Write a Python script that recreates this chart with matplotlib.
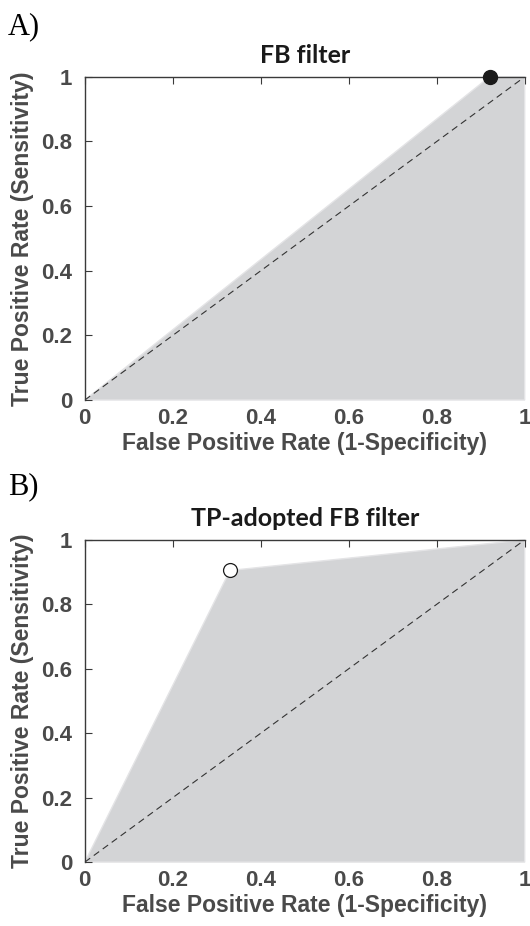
import numpy as np
import matplotlib
matplotlib.use("Agg")
import matplotlib.pyplot as plt

# ROC points (FPR, TPR) for each filter
fb_fpr = [0, 0.92, 1, 1]
fb_tpr = [0, 1.0, 1, 0]
fb_point = (0.92, 1.0)

tp_fpr = [0, 0.33, 1, 1]
tp_tpr = [0, 0.905, 1, 0]
tp_point = (0.33, 0.905)

ticks = [0, 0.2, 0.4, 0.6, 0.8, 1]
tick_labels = ["0", "0.2", "0.4", "0.6", "0.8", "1"]

fig = plt.figure(figsize=(5.3, 9.26), dpi=100)

ax_a = fig.add_axes([0.160, 0.568, 0.830, 0.349])
ax_b = fig.add_axes([0.160, 0.069, 0.830, 0.348])

label_col = "#4a4a4a"
fill_col = "#d3d4d6"

def style_axes(ax, title):
    ax.set_xlim(0, 1)
    ax.set_ylim(0, 1)
    for s in ["bottom", "right"]:
        ax.spines[s].set_visible(False)
    for s in ["top", "left"]:
        ax.spines[s].set_color("#3a3a3a")
        ax.spines[s].set_linewidth(1.0)
    ax.set_xticks(ticks)
    ax.set_xticklabels(tick_labels)
    ax.set_yticks(ticks)
    ax.set_yticklabels(tick_labels)
    ax.tick_params(axis="x", top=True, bottom=False, labelbottom=True,
                   direction="in", length=5, color="#3a3a3a", pad=6)
    ax.tick_params(axis="y", left=True, direction="in", length=5,
                   color="#3a3a3a", pad=9)
    for lab in ax.get_xticklabels() + ax.get_yticklabels():
        lab.set_fontfamily("Liberation Sans")
        lab.set_fontweight("bold")
        lab.set_fontsize(16)
        lab.set_color(label_col)
    ax.set_xlabel("False Positive Rate (1-Specificity)", fontsize=16.5,
                  fontweight="bold", color=label_col, family="Liberation Sans",
                  labelpad=2)
    ax.set_ylabel("True Positive Rate (Sensitivity)", fontsize=16.5,
                  fontweight="bold", color=label_col, family="Liberation Sans",
                  labelpad=5)
    ax.set_title(title, fontsize=18, fontweight="bold", family="Lato",
                 color="#1a1a1a", pad=10)

# panel A
ax_a.fill(fb_fpr, fb_tpr, color=fill_col, edgecolor="#e4e4e6", lw=1, clip_on=False, zorder=1)
ax_a.plot([0, 1], [0, 1], ls=(0, (6, 4)), color="#333333", lw=0.8, zorder=2)
ax_a.plot(*fb_point, "o", ms=10, mfc="#1a1a1a", mec="#1a1a1a", clip_on=False, zorder=5)
style_axes(ax_a, "FB filter")

# panel B
ax_b.fill(tp_fpr, tp_tpr, color=fill_col, edgecolor="#e4e4e6", lw=1, clip_on=False, zorder=1)
ax_b.plot([0, 1], [0, 1], ls=(0, (6, 4)), color="#333333", lw=0.8, zorder=2)
ax_b.plot(*tp_point, "o", ms=10, mfc="white", mec="#1a1a1a", mew=0.9, clip_on=False, zorder=5)
style_axes(ax_b, "TP-adopted FB filter")

fig.text(0.015, 1 - 27 / 926, "A)", fontsize=22, family="Liberation Serif",
         va="center", ha="left")
fig.text(0.015, 1 - 487 / 926, "B)", fontsize=22, family="Liberation Serif",
         va="center", ha="left")

fig.savefig("out.png", dpi=100)
